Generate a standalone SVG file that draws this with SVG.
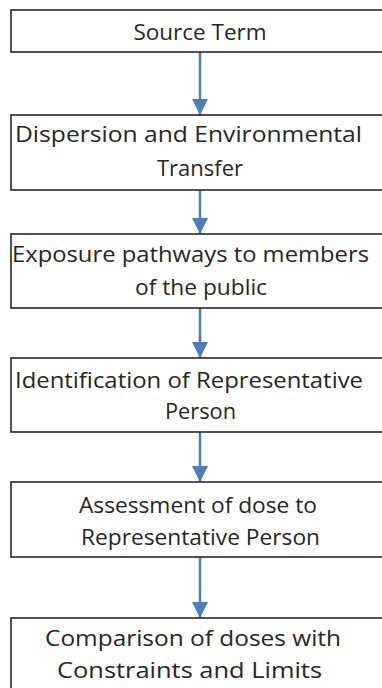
<svg xmlns="http://www.w3.org/2000/svg" width="382" height="688" viewBox="0 0 382 688">
<style>
.box{fill:#fff;stroke:#262626;stroke-width:1.6}
.t{font-family:"Open Sans","Liberation Sans",sans-serif;font-size:22px;fill:#262626;text-anchor:middle}
.c{stroke:#4A7EBB;stroke-width:2.5;fill:none}
</style>
<defs>
<marker id="ah" markerUnits="userSpaceOnUse" markerWidth="18" markerHeight="18" refX="16" refY="8" orient="auto">
<path d="M0,0 L16,8 L0,16 Z" fill="#4A7EBB"/>
</marker>
</defs>
<rect width="382" height="688" fill="#fff"/>
<g id="connectors">
<line class="c" x1="200" y1="52" x2="200" y2="115" marker-end="url(#ah)"/>
<line class="c" x1="200" y1="190" x2="200" y2="234" marker-end="url(#ah)"/>
<line class="c" x1="200" y1="308" x2="200" y2="358" marker-end="url(#ah)"/>
<line class="c" x1="200" y1="432" x2="200" y2="482" marker-end="url(#ah)"/>
<line class="c" x1="200" y1="557" x2="200" y2="618" marker-end="url(#ah)"/>
</g>
<g id="n1"><rect class="box" x="11" y="10" width="380" height="42"/><text class="t" x="200" y="40" textLength="133" lengthAdjust="spacingAndGlyphs">Source Term</text></g>
<g id="n2"><rect class="box" x="11" y="115" width="380" height="75"/><text class="t" x="188.5" y="142" textLength="347" lengthAdjust="spacingAndGlyphs">Dispersion and Environmental</text><text class="t" x="200" y="176" textLength="86" lengthAdjust="spacingAndGlyphs">Transfer</text></g>
<g id="n3"><rect class="box" x="11" y="234" width="380" height="74"/><text class="t" x="190.5" y="262" textLength="357" lengthAdjust="spacingAndGlyphs">Exposure pathways to members</text><text class="t" x="201" y="295" textLength="132" lengthAdjust="spacingAndGlyphs">of the public</text></g>
<g id="n4"><rect class="box" x="11" y="358" width="380" height="74"/><text class="t" x="189" y="388" textLength="348" lengthAdjust="spacingAndGlyphs">Identification of Representative</text><text class="t" x="200.5" y="419" textLength="71" lengthAdjust="spacingAndGlyphs">Person</text></g>
<g id="n5"><rect class="box" x="11" y="482" width="380" height="75"/><text class="t" x="198" y="513" textLength="238" lengthAdjust="spacingAndGlyphs">Assessment of dose to</text><text class="t" x="200.5" y="545" textLength="239" lengthAdjust="spacingAndGlyphs">Representative Person</text></g>
<g id="n6"><rect class="box" x="11" y="618" width="380" height="80"/><text class="t" x="193" y="646" textLength="296" lengthAdjust="spacingAndGlyphs">Comparison of doses with</text><text class="t" x="189.5" y="678" textLength="265" lengthAdjust="spacingAndGlyphs">Constraints and Limits</text></g>
</svg>
